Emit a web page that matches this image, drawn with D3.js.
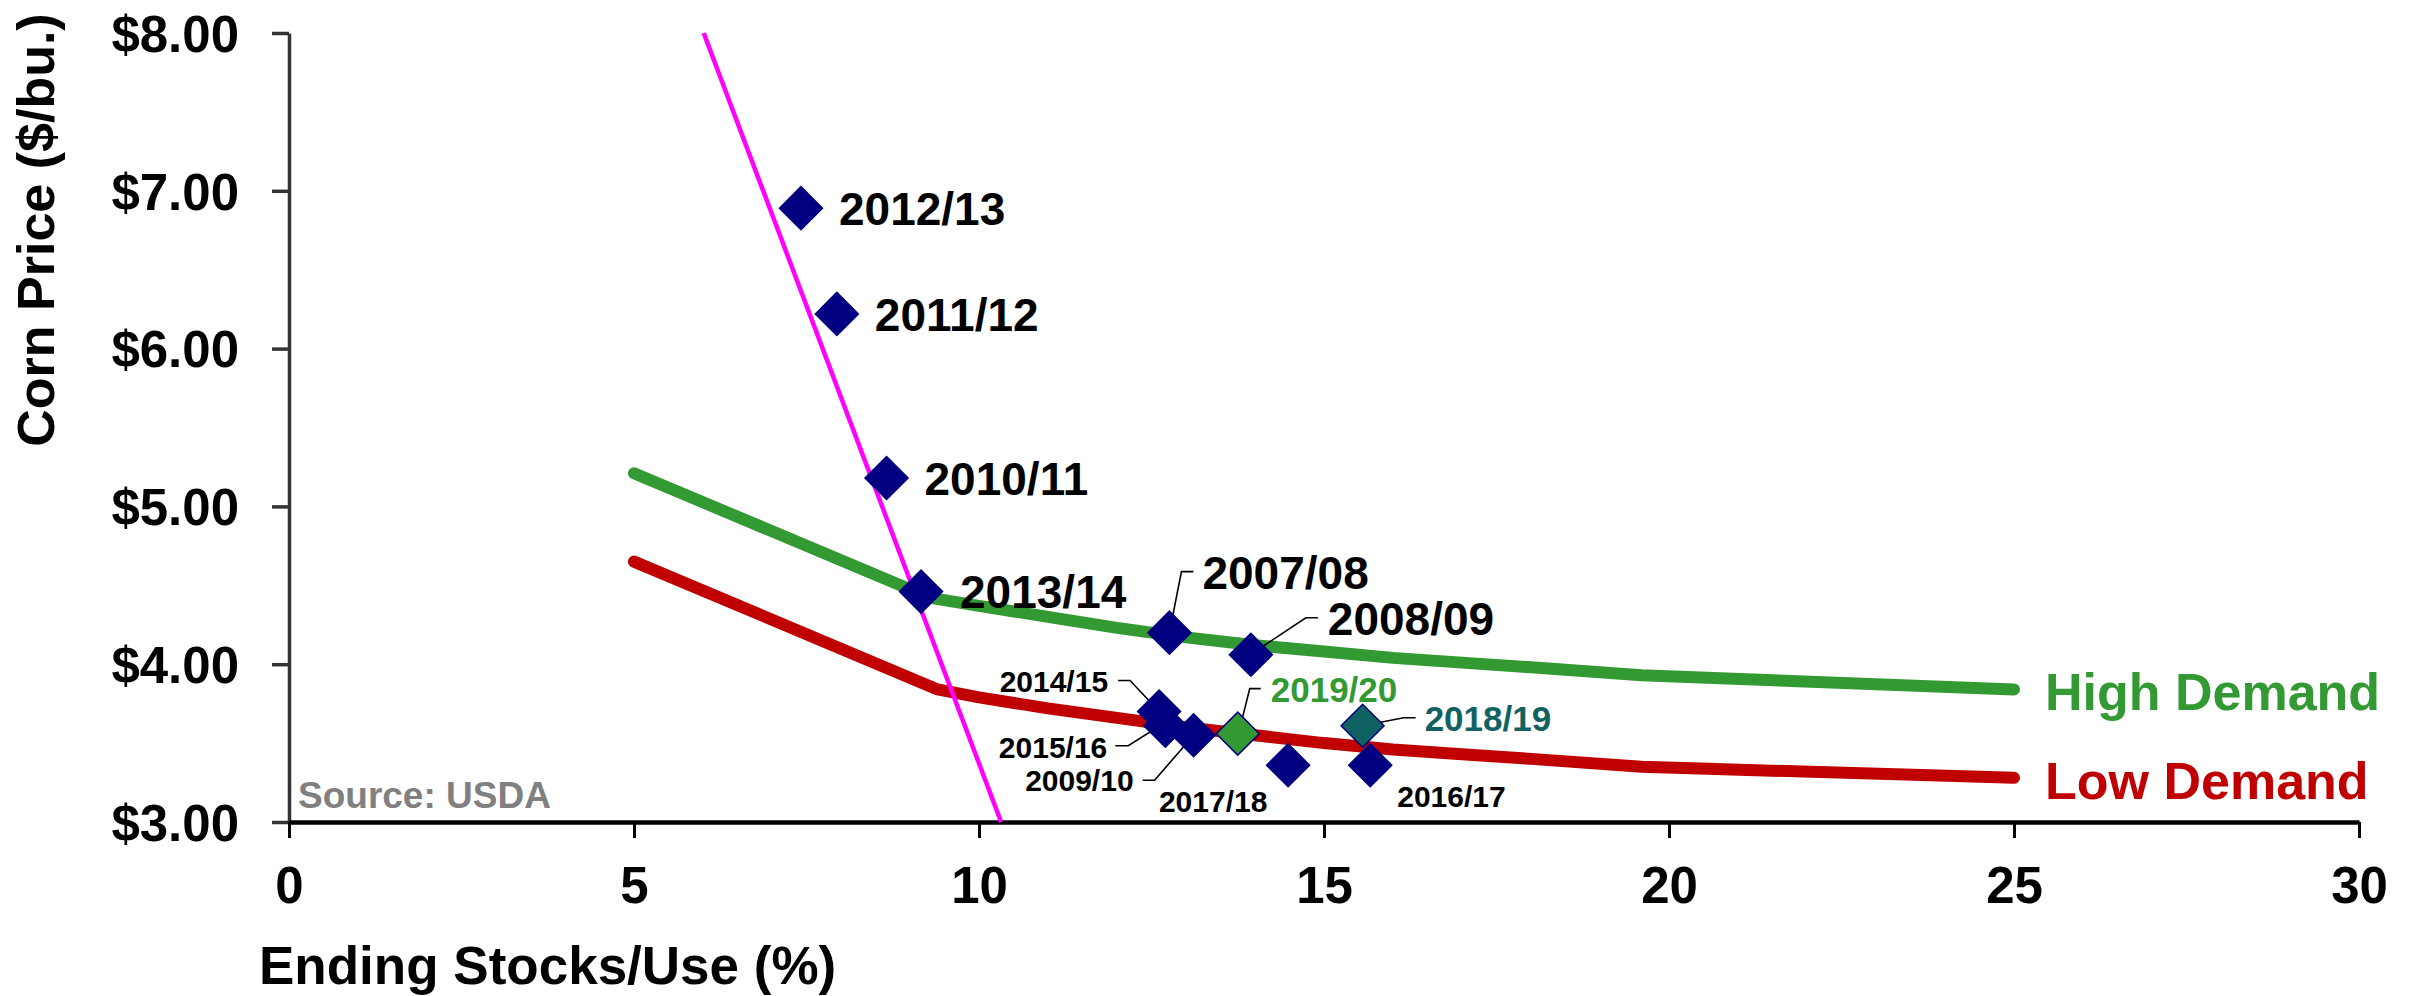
<!DOCTYPE html>
<html>
<head>
<meta charset="utf-8">
<script src="https://cdn.jsdelivr.net/npm/d3@7"></script>
<style>
  html, body { margin: 0; padding: 0; background: #fff; }
  svg text { font-family: "Liberation Sans", Arial, sans-serif; font-weight: bold; }
</style>
</head>
<body>
<svg id="chart" width="2415" height="996"></svg>
<script>
// Marketing-year observations: ending stocks/use (%) and season-average corn price ($/bu.)
const seasons  = ["2012/13", "2011/12", "2010/11", "2013/14", "2007/08", "2008/09",
                  "2014/15", "2015/16", "2009/10", "2019/20", "2017/18", "2018/19", "2016/17"];
const stocksUse = [7.42, 7.94, 8.66, 9.16, 12.76, 13.94, 12.61, 12.70, 13.11, 13.75, 14.48, 15.56, 15.67];
const prices    = [6.89, 6.22, 5.18, 4.46, 4.20, 4.06, 3.70, 3.61, 3.55, 3.56, 3.36, 3.61, 3.36];

// Price curves under two demand scenarios
const highDemandX = [5, 9.3, 10, 11, 12, 13, 14, 15, 16, 17, 18, 19.6, 25];
const highDemandY = [5.21, 4.42, 4.37, 4.30, 4.23, 4.17, 4.12, 4.08, 4.04, 4.01, 3.98, 3.93, 3.84];
const lowDemandX  = [5, 9.4, 10, 11, 12, 13, 14, 15, 16, 17, 18, 19.6, 25];
const lowDemandY  = [4.65, 3.84, 3.79, 3.72, 3.66, 3.60, 3.55, 3.50, 3.46, 3.43, 3.40, 3.35, 3.28];

// Steep supply-shortage trend line
const trendX = [6.01, 10.32];
const trendY = [8.00, 3.00];

// Axis ticks
const xTicks = [0, 5, 10, 15, 20, 25, 30];
const yTicks = [3, 4, 5, 6, 7, 8];

// ---- layout & styling (kept separate from the data) ----
const NAVY = "#000080", GREEN = "#339933", RED = "#C00000", MAGENTA = "#FF00FF", TEAL = "#106262";
const FONT = "'Liberation Sans', Arial, sans-serif";

// label placement relative to each point, in pixels
const labelStyle = {
  "2012/13": { dx: 38, dy: 17, size: 46, anchor: "start" },
  "2011/12": { dx: 38, dy: 17, size: 46, anchor: "start" },
  "2010/11": { dx: 38, dy: 17, size: 46, anchor: "start" },
  "2013/14": { dx: 39, dy: 16, size: 46, anchor: "start" },
  "2007/08": { dx: 33, dy: -44, size: 46, anchor: "start", leader: [[0, 0], [12, -61], [24, -61]] },
  "2008/09": { dx: 77, dy: -20, size: 46, anchor: "start", leader: [[1, -1], [55, -37], [67, -37]] },
  "2014/15": { dx: -51, dy: -20, size: 30, anchor: "end", leader: [[0, 0], [-29, -31], [-41, -31]] },
  "2015/16": { dx: -58, dy: 32, size: 30, anchor: "end", leader: [[1, -4], [-37, 20], [-50, 20]] },
  "2009/10": { dx: -60, dy: 56, size: 30, anchor: "end", leader: [[0, 0], [-39, 45], [-51, 45]] },
  "2017/18": { dx: -75, dy: 47, size: 30, anchor: "middle" },
  "2016/17": { dx: 27, dy: 42, size: 30, anchor: "start" },
  "2019/20": { dx: 33, dy: -32, size: 35, anchor: "start", color: GREEN, fill: GREEN, leader: [[1, -1], [12, -45], [23, -45]] },
  "2018/19": { dx: 62, dy: 5, size: 35, anchor: "start", color: TEAL, fill: TEAL, leader: [[0, 0], [41, -8], [53, -8]] }
};

const svg = d3.select("#chart");
const x = d3.scaleLinear().domain([0, 30]).range([289, 2359]);
const y = d3.scaleLinear().domain([3, 8]).range([822, 33]);

// ---- axes ----
const xAxis = svg.append("g")
  .attr("transform", `translate(0,${y(3)})`)
  .call(d3.axisBottom(x).tickValues(xTicks).tickSize(16).tickSizeOuter(0).tickPadding(29).tickFormat(d3.format("d")));
xAxis.select(".domain").attr("stroke", "#000").attr("stroke-width", 4.5);
xAxis.selectAll(".tick line").attr("stroke", "#000").attr("stroke-width", 3);
xAxis.selectAll(".tick text").attr("font-size", 51).attr("fill", "#000")
  .style("font-family", FONT).style("font-weight", "bold");

const yAxis = svg.append("g")
  .attr("transform", `translate(${x(0)},0)`)
  .call(d3.axisLeft(y).tickValues(yTicks).tickSize(17).tickSizeOuter(0).tickPadding(33).tickFormat(d => "$" + d3.format(".2f")(d)));
yAxis.select(".domain").attr("stroke", "#333").attr("stroke-width", 3.5);
yAxis.selectAll(".tick line").attr("stroke", "#333").attr("stroke-width", 3.5);
yAxis.selectAll(".tick text").attr("font-size", 51).attr("fill", "#000").attr("dy", "0.36em")
  .style("font-family", FONT).style("font-weight", "bold");
xAxis.raise();

// ---- axis titles & source ----
svg.append("text")
  .attr("transform", `translate(54,230) rotate(-90)`)
  .attr("text-anchor", "middle")
  .attr("font-size", 52)
  .attr("fill", "#000")
  .text("Corn Price ($/bu.)");

svg.append("text")
  .attr("x", 259).attr("y", 984)
  .attr("font-size", 53)
  .attr("fill", "#000")
  .text("Ending Stocks/Use (%)");

svg.append("text")
  .attr("x", 298).attr("y", 808)
  .attr("font-size", 37)
  .attr("fill", "#808080")
  .text("Source: USDA");

// ---- demand curves ----
const line = d3.line().x(d => x(d[0])).y(d => y(d[1]));

svg.append("path")
  .datum(d3.zip(highDemandX, highDemandY))
  .attr("d", line)
  .attr("fill", "none").attr("stroke", GREEN).attr("stroke-width", 12)
  .attr("stroke-linecap", "round").attr("stroke-linejoin", "round");

svg.append("path")
  .datum(d3.zip(lowDemandX, lowDemandY))
  .attr("d", line)
  .attr("fill", "none").attr("stroke", RED).attr("stroke-width", 12)
  .attr("stroke-linecap", "round").attr("stroke-linejoin", "round");

svg.append("path")
  .datum(d3.zip(trendX, trendY))
  .attr("d", line)
  .attr("fill", "none").attr("stroke", MAGENTA).attr("stroke-width", 4.5);

// curve end labels
const highEnd = highDemandX.length - 1, lowEnd = lowDemandX.length - 1;
svg.append("text")
  .attr("x", x(highDemandX[highEnd]) + 31).attr("y", y(highDemandY[highEnd]) + 21)
  .attr("font-size", 52).attr("fill", GREEN).text("High Demand");
svg.append("text")
  .attr("x", x(lowDemandX[lowEnd]) + 31).attr("y", y(lowDemandY[lowEnd]) + 21)
  .attr("font-size", 52).attr("fill", RED).text("Low Demand");

// ---- observations ----
const points = seasons.map((s, i) => ({ season: s, sx: stocksUse[i], p: prices[i], st: labelStyle[s] }));

// leader lines
svg.append("g").selectAll("path")
  .data(points.filter(d => d.st.leader))
  .join("path")
  .attr("d", d => d3.line()(d.st.leader.map(([dx, dy]) => [x(d.sx) + dx, y(d.p) + dy])))
  .attr("fill", "none").attr("stroke", "#000").attr("stroke-width", 1.6);

// diamond markers
const diamond = d3.symbol(d3.symbolSquare, 924);
svg.append("g").selectAll("path")
  .data(points)
  .join("path")
  .attr("d", diamond)
  .attr("transform", d => `translate(${x(d.sx)},${y(d.p)}) rotate(45)`)
  .attr("fill", d => d.st.fill || NAVY)
  .attr("stroke", NAVY).attr("stroke-width", 1.5);

// season labels
svg.append("g").selectAll("text")
  .data(points)
  .join("text")
  .attr("x", d => x(d.sx) + d.st.dx)
  .attr("y", d => y(d.p) + d.st.dy)
  .attr("text-anchor", d => d.st.anchor)
  .attr("font-size", d => d.st.size)
  .attr("fill", d => d.st.color || "#000")
  .text(d => d.season);
</script>
</body>
</html>
